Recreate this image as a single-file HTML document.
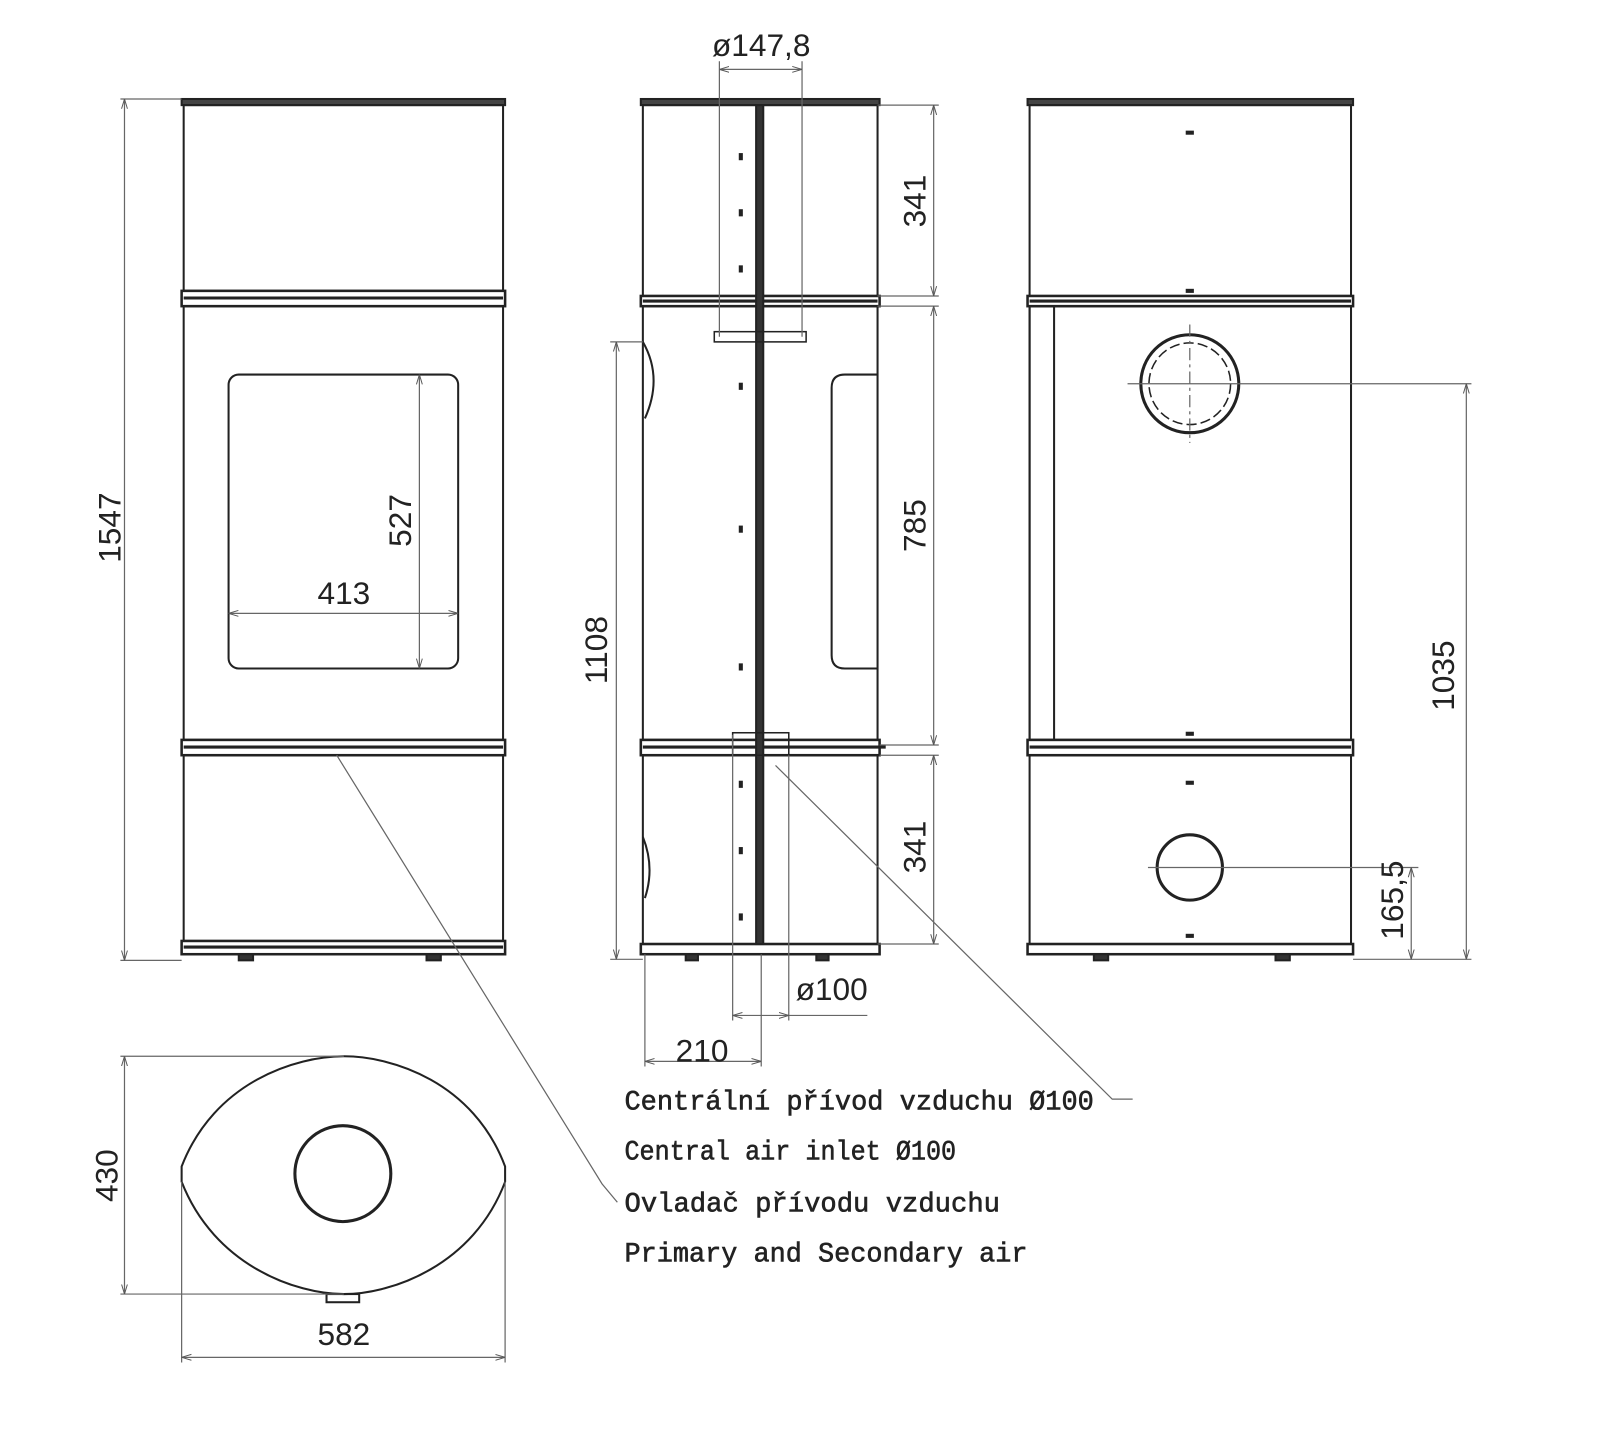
<!DOCTYPE html>
<html><head><style>html,body{margin:0;padding:0;background:#fff}svg{display:block}
.t{font-family:"Liberation Sans Narrow","Liberation Sans",sans-serif;font-size:31px;fill:#222}
.m{font-family:"Liberation Mono",monospace;font-size:27px;fill:#222;stroke:#222;stroke-width:0.6}
</style></head><body>
<svg width="1600" height="1440" viewBox="0 0 1568 1411" preserveAspectRatio="none" xmlns="http://www.w3.org/2000/svg">
<defs><marker id="a" viewBox="0 0 10 10" refX="10" refY="5" markerWidth="8" markerHeight="8" orient="auto-start-reverse"><path d="M0,2L10,5L0,8" fill="none" stroke="#555" stroke-width="1"/></marker></defs>
<g fill="none" stroke="#222" stroke-width="2">
<rect x="178" y="97" width="317" height="6" fill="#444"/>
<rect x="180" y="103" width="313" height="182"/>
<rect x="178" y="285" width="317" height="15" stroke-width="2.5"/><line x1="180" y1="292" x2="493" y2="292" stroke-width="3"/>
<rect x="180" y="300" width="313" height="425"/>
<rect x="224" y="367" width="225" height="288" rx="10"/>
<rect x="178" y="725" width="317" height="15" stroke-width="2.5"/><line x1="180" y1="732" x2="493" y2="732" stroke-width="3"/>
<rect x="180" y="740" width="313" height="182"/>
<rect x="178" y="922" width="317" height="13" stroke-width="2.5"/><line x1="180" y1="928" x2="493" y2="928" stroke-width="3"/>
<rect x="234" y="935" width="14" height="6" fill="#333"/><rect x="418" y="935" width="14" height="6" fill="#333"/>
<rect x="628" y="97" width="234" height="6" fill="#444"/>
<rect x="630" y="103" width="230" height="187"/>
<rect x="628" y="290" width="234" height="10" stroke-width="2.5"/><line x1="630" y1="295" x2="860" y2="295" stroke-width="3"/>
<rect x="630" y="300" width="230" height="425"/>
<path d="M630,335 Q650,370 632,410"/>
<path d="M860,367 H828 Q815,367 815,380 V642 Q815,655 828,655 H860"/>
<rect x="628" y="725" width="234" height="15" stroke-width="2.5"/><line x1="630" y1="732" x2="868" y2="732" stroke-width="3"/>
<rect x="630" y="740" width="230" height="185"/>
<path d="M630,820 Q642,850 632,880"/>
<rect x="628" y="925" width="234" height="10" stroke-width="2.5"/>
<rect x="741" y="103" width="7" height="822" fill="#333"/>
<rect x="700" y="325" width="90" height="10" stroke-width="1.5"/>
<rect x="718" y="718" width="55" height="22" stroke-width="1.5"/>
<rect x="672" y="935" width="12" height="6" fill="#333"/><rect x="800" y="935" width="12" height="6" fill="#333"/>
<rect x="1007" y="97" width="319" height="6" fill="#444"/>
<rect x="1009" y="103" width="315" height="187"/>
<rect x="1007" y="290" width="319" height="10" stroke-width="2.5"/><line x1="1009" y1="295" x2="1324" y2="295" stroke-width="3"/>
<rect x="1009" y="300" width="315" height="425"/>
<rect x="1009" y="300" width="24" height="425"/>
<circle cx="1166" cy="376" r="48" stroke-width="3"/>
<circle cx="1166" cy="376" r="40" stroke-width="1.5" stroke-dasharray="10 4"/>
<rect x="1007" y="725" width="319" height="15" stroke-width="2.5"/><line x1="1009" y1="732" x2="1324" y2="732" stroke-width="3"/>
<rect x="1009" y="740" width="315" height="185"/>
<circle cx="1166" cy="850" r="32" stroke-width="3"/>
<rect x="1007" y="925" width="319" height="10" stroke-width="2.5"/>
<rect x="1072" y="935" width="14" height="6" fill="#333"/><rect x="1250" y="935" width="14" height="6" fill="#333"/>
<g fill="#222" stroke="none"><rect x="1162" y="128" width="8" height="4"/><rect x="1162" y="283" width="8" height="4"/><rect x="1162" y="717" width="8" height="4"/><rect x="1162" y="765" width="8" height="4"/><rect x="1162" y="915" width="8" height="4"/>
<rect x="724" y="150" width="4" height="7"/><rect x="724" y="205" width="4" height="7"/><rect x="724" y="260" width="4" height="7"/><rect x="724" y="375" width="4" height="7"/><rect x="724" y="515" width="4" height="7"/><rect x="724" y="650" width="4" height="7"/><rect x="724" y="765" width="4" height="7"/><rect x="724" y="830" width="4" height="7"/><rect x="724" y="895" width="4" height="7"/></g>
<path d="M178,1143 C210,1060 290,1035 337,1035 C384,1035 464,1060 495,1143 V1158 C464,1240 384,1268 337,1268 C290,1268 210,1240 178,1158 Z"/>
<circle cx="336" cy="1150" r="47" stroke-width="3"/>
<rect x="320" y="1268" width="32" height="8"/>
</g>
<g fill="none" stroke="#666" stroke-width="1.2">
<line x1="118" y1="97" x2="178" y2="97"/><line x1="118" y1="941" x2="178" y2="941"/>
<line x1="122" y1="97" x2="122" y2="941" marker-start="url(#a)" marker-end="url(#a)"/>
<line x1="411" y1="367" x2="411" y2="655" marker-start="url(#a)" marker-end="url(#a)"/>
<line x1="224" y1="601" x2="449" y2="601" marker-start="url(#a)" marker-end="url(#a)"/>
<line x1="705" y1="60" x2="705" y2="330"/><line x1="786" y1="60" x2="786" y2="330"/>
<line x1="705" y1="68" x2="786" y2="68" marker-start="url(#a)" marker-end="url(#a)"/>
<line x1="860" y1="103" x2="920" y2="103"/><line x1="860" y1="290" x2="920" y2="290"/><line x1="860" y1="300" x2="920" y2="300"/><line x1="862" y1="730" x2="920" y2="730"/><line x1="862" y1="740" x2="920" y2="740"/><line x1="860" y1="925" x2="920" y2="925"/>
<line x1="915" y1="103" x2="915" y2="290" marker-start="url(#a)" marker-end="url(#a)"/>
<line x1="915" y1="300" x2="915" y2="730" marker-start="url(#a)" marker-end="url(#a)"/>
<line x1="915" y1="740" x2="915" y2="925" marker-start="url(#a)" marker-end="url(#a)"/>
<line x1="598" y1="335" x2="630" y2="335"/><line x1="598" y1="940" x2="630" y2="940"/>
<line x1="604" y1="335" x2="604" y2="940" marker-start="url(#a)" marker-end="url(#a)"/>
<line x1="718" y1="720" x2="718" y2="1000"/><line x1="773" y1="740" x2="773" y2="1000"/>
<line x1="718" y1="995" x2="773" y2="995" marker-start="url(#a)" marker-end="url(#a)"/><line x1="773" y1="995" x2="850" y2="995"/>
<line x1="632" y1="935" x2="632" y2="1045"/><line x1="746" y1="935" x2="746" y2="1045"/>
<line x1="632" y1="1040" x2="746" y2="1040" marker-start="url(#a)" marker-end="url(#a)"/>
<line x1="1105" y1="376" x2="1442" y2="376"/><line x1="1166" y1="318" x2="1166" y2="434" stroke-dasharray="12 4 3 4"/>
<line x1="1125" y1="850" x2="1390" y2="850"/><line x1="1326" y1="940" x2="1442" y2="940"/>
<line x1="1437" y1="376" x2="1437" y2="940" marker-start="url(#a)" marker-end="url(#a)"/>
<line x1="1383" y1="850" x2="1383" y2="940" marker-start="url(#a)" marker-end="url(#a)"/>
<line x1="118" y1="1035" x2="337" y2="1035"/><line x1="118" y1="1268" x2="337" y2="1268"/>
<line x1="122" y1="1035" x2="122" y2="1268" marker-start="url(#a)" marker-end="url(#a)"/>
<line x1="178" y1="1158" x2="178" y2="1335"/><line x1="495" y1="1158" x2="495" y2="1335"/>
<line x1="178" y1="1330" x2="495" y2="1330" marker-start="url(#a)" marker-end="url(#a)"/>
<polyline points="760,750 1090,1077 1110,1077"/>
<polyline points="330,740 590,1160 605,1178"/>
</g>
<g class="t" text-anchor="middle">
<text transform="translate(118,517) rotate(-90)">1547</text>
<text transform="translate(403,510) rotate(-90)">527</text>
<text x="337" y="592">413</text>
<text x="746" y="55">ø147,8</text>
<text transform="translate(907,197) rotate(-90)">341</text>
<text transform="translate(907,515) rotate(-90)">785</text>
<text transform="translate(907,830) rotate(-90)">341</text>
<text transform="translate(595,637) rotate(-90)">1108</text>
<text x="815" y="980">ø100</text>
<text x="688" y="1040">210</text>
<text transform="translate(1425,662) rotate(-90)">1035</text>
<text transform="translate(1375,882) rotate(-90)">165,5</text>
<text transform="translate(115,1152) rotate(-90)">430</text>
<text x="337" y="1318">582</text>
</g>
<g class="m">
<text x="612" y="1087" textLength="460" lengthAdjust="spacingAndGlyphs">Centrální přívod vzduchu Ø100</text>
<text x="612" y="1136" textLength="325" lengthAdjust="spacingAndGlyphs">Central air inlet Ø100</text>
<text x="612" y="1187" textLength="368" lengthAdjust="spacingAndGlyphs">Ovladač přívodu vzduchu</text>
<text x="612" y="1236" textLength="395" lengthAdjust="spacingAndGlyphs">Primary and Secondary air</text>
</g>
</svg>
</body></html>
